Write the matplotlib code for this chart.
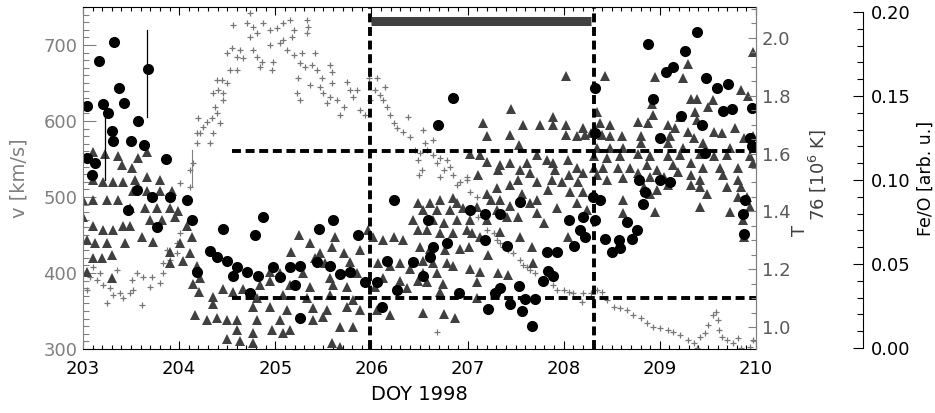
import matplotlib
matplotlib.use('Agg')
import matplotlib.pyplot as plt
from matplotlib.ticker import MultipleLocator, FormatStrFormatter
from matplotlib.transforms import blended_transform_factory

plt.rcParams['font.family'] = ['DejaVu Sans']

# solar wind speed v [km/s] (grey crosses)
v_day = [203.00, 203.07, 203.15, 203.21, 203.04, 203.28, 203.31, 203.25, 203.39, 203.42,
         203.49, 203.52, 203.51, 203.56, 203.62, 203.72, 203.70, 203.80, 203.61, 203.83,
         203.91, 203.87, 203.98, 204.01, 203.98, 203.83, 203.10, 203.35, 203.18,
         204.11, 204.14, 204.11, 204.01, 204.19, 204.22, 204.19, 204.25, 204.20, 204.29,
         204.34, 204.39, 204.35, 204.32, 204.43, 204.37, 204.35, 204.40, 204.46, 204.39,
         204.45, 204.50, 204.46, 204.53, 204.60, 204.50, 204.55, 204.63, 204.60, 204.66,
         204.56, 204.71, 204.74,
         204.74, 204.77, 204.81, 204.87, 204.95, 205.02, 205.08, 205.15, 205.19, 205.33,
         205.34, 205.33, 204.77, 204.81, 204.86, 204.84, 204.95, 204.98, 204.97, 205.05,
         205.12, 205.19, 205.28, 205.41, 205.08, 205.17, 205.26, 205.31, 205.38, 205.43,
         205.57, 205.24, 205.36, 205.49, 205.47, 205.59, 205.59, 205.23, 205.26, 205.50,
         205.57, 205.64, 205.75, 205.78, 205.81, 205.71, 205.67, 205.54, 205.85, 205.88,
         205.93, 205.97, 206.06, 206.04, 205.99, 206.09, 206.12, 206.16, 206.19, 206.14,
         206.23, 206.27, 206.33, 206.40, 206.38, 206.45, 206.48, 206.49,
         206.54, 206.56, 206.64, 206.51, 206.58, 206.64, 206.71, 206.79, 206.68, 206.82,
         206.75, 206.71, 206.85, 206.92, 206.99, 206.89, 207.03, 206.99, 206.53, 207.10,
         207.11, 207.20, 207.31, 207.37, 207.47, 207.55, 207.62, 207.70, 207.79, 207.89,
         208.00, 208.10, 208.20, 208.19, 206.68, 207.34, 207.27, 207.42, 207.58, 207.65,
         207.93, 208.05,
         208.28, 208.35, 208.40, 208.45, 208.52, 208.59, 208.66, 208.72, 208.80, 208.87,
         208.93, 209.00, 209.08, 209.14, 209.21, 209.29, 209.35, 209.39, 209.42, 209.47,
         209.50, 209.55, 209.58, 209.60, 209.61, 209.65, 209.70, 209.76, 209.84, 209.97,
         209.94, 209.81]
v_val = [400, 395, 391, 384, 378, 380, 371, 360, 374, 367,
         374, 378, 391, 400, 395, 395, 382, 387, 358, 413,
         417, 430, 439, 453, 426, 400, 408, 404, 400,
         536, 545, 513, 518, 571, 584, 584, 592, 604, 599,
         604, 610, 584, 571, 597, 618, 637, 641, 637, 654,
         654, 650, 628, 667, 667, 689, 696, 693, 684, 683,
         726, 729, 710,
         742, 724, 716, 729, 720, 722, 729, 733, 720, 733,
         724, 716, 693, 684, 678, 671, 700, 678, 667, 703,
         693, 687, 689, 689, 707, 710, 676, 671, 674, 667,
         674, 657, 647, 657, 645, 664, 650, 637, 628, 637,
         632, 628, 651, 641, 632, 618, 608, 624, 641, 614,
         608, 657, 657, 641, 628, 634, 628, 618, 608, 645,
         597, 591, 586, 579, 605, 562, 549, 529,
         588, 571, 575, 558, 562, 555, 551, 549, 545, 540,
         536, 526, 529, 520, 522, 516, 507, 526, 536, 500,
         474, 457, 443, 434, 426, 417, 408, 400, 391, 384,
         378, 374, 374, 362, 322, 439, 453, 430, 411, 404,
         378, 375,
         374, 378, 375, 364, 355, 354, 351, 345, 341, 334,
         329, 328, 325, 322, 318, 312, 308, 301, 316, 321,
         332, 345, 349, 338, 325, 316, 312, 308, 301, 312,
         303, 314]

# temperature T76 [10^6 K] (dark triangles)
t_day = [203.10, 203.23, 203.36, 203.41, 203.51, 203.57, 203.67,
         203.10, 203.21, 203.31, 203.42, 203.54, 203.67, 203.80,
         203.00, 203.10, 203.25, 203.36, 203.52, 203.67, 203.80, 203.93,
         203.49, 203.65, 203.77, 203.91, 203.99,
         203.00, 203.10, 203.21, 203.31, 203.42, 203.49, 203.70, 203.82, 203.96,
         203.04, 203.12, 203.25, 203.44, 203.61, 203.73,
         203.10, 203.20, 203.30, 203.91, 204.01, 204.08, 204.13,
         203.30, 203.91, 204.17, 204.29, 204.39, 204.50, 204.60,
         204.50, 204.63, 204.60, 204.21, 204.35, 204.46, 204.56, 204.66, 204.35, 204.19,
         204.14, 204.22, 204.04, 204.11, 203.04,
         205.25, 205.36, 205.16, 205.59, 205.96, 206.02, 206.12, 206.23, 206.33, 206.43,
         206.48, 206.48, 205.41, 205.52, 205.71, 205.78, 205.88, 205.47, 205.62,
         204.95, 205.05, 205.29, 205.57, 205.85,
         204.84, 204.95, 205.15, 205.36, 205.60, 205.75,
         206.07, 206.19, 206.30, 206.40, 206.12, 206.30, 206.48, 206.04, 206.37,
         204.81, 205.08, 205.33, 205.57, 205.81,
         204.77, 204.95, 205.12, 205.39, 205.54, 205.75, 205.88, 206.06, 206.19,
         204.81, 205.05, 205.15, 205.39, 205.50, 204.77, 204.97, 205.67, 205.81, 205.08,
         204.77, 205.59, 205.67,
         208.02, 207.45, 207.89, 207.16, 207.58, 207.75, 207.89, 208.02, 208.20,
         207.20, 207.44, 208.02, 208.14, 208.22,
         207.03, 207.13, 207.53, 207.72, 207.89, 208.04,
         207.20, 207.34, 207.44, 207.62, 207.83, 208.14,
         207.11, 207.32, 207.55, 207.65, 207.91, 208.05, 208.20,
         207.52, 207.72, 207.88, 207.98, 208.15,
         207.31, 207.44, 207.84, 208.07, 208.20,
         207.20, 207.24, 207.34, 207.57, 207.72, 208.14,
         206.89, 206.85, 206.71, 206.61,
         206.54, 206.68, 206.82, 206.95, 207.10, 207.31, 207.44, 207.65, 207.93, 208.24,
         206.64, 206.75, 206.89, 207.03, 207.20, 207.41, 207.52, 207.72, 207.79,
         206.58, 206.71, 206.85, 206.99, 207.05, 207.13, 207.34, 207.55, 207.67, 208.04,
         206.51, 206.61, 206.77, 206.92, 207.01, 207.21, 207.68,
         206.54, 206.64, 206.79, 206.85, 207.03, 207.13,
         206.54, 206.68, 207.32, 207.42,
         206.58, 206.74, 207.10, 206.71, 207.10,
         206.54, 206.75, 206.87,
         208.43, 209.29, 209.97, 208.95, 209.24, 209.84, 209.92, 209.32, 209.39, 209.55,
         209.21, 209.37, 209.50, 208.92, 208.93, 208.35, 208.38, 208.48, 208.77, 208.88,
         209.08, 209.16, 209.39, 209.29, 209.56, 209.65, 209.78,
         208.28, 208.40, 208.48, 208.61, 208.80, 209.11, 209.35, 209.87, 209.97,
         208.35, 208.48, 208.62, 208.80, 209.08, 209.24, 209.45, 209.73,
         208.31, 208.45, 208.59, 208.77, 208.90, 209.08, 209.21, 209.42, 209.56, 209.70,
         209.94,
         208.31, 208.41, 208.56, 208.69, 208.87, 208.97, 209.14, 209.32, 209.45, 209.63,
         209.81, 209.97,
         208.45, 208.62, 208.77, 208.90, 209.04, 209.19, 209.32, 209.42, 209.66, 209.81,
         208.35,
         208.83, 209.08, 209.32, 209.42, 209.70, 209.84,
         208.90, 208.97, 209.49, 209.81, 209.91,
         208.62, 209.42, 209.94, 208.62, 208.95, 209.73, 209.86, 209.87]
t_val = [1.606, 1.60, 1.59, 1.56, 1.55, 1.585, 1.606,
         1.51, 1.50, 1.50, 1.50, 1.51, 1.52, 1.51,
         1.44, 1.44, 1.44, 1.44, 1.47, 1.47, 1.47, 1.47,
         1.41, 1.41, 1.41, 1.41, 1.40,
         1.38, 1.35, 1.335, 1.335, 1.35, 1.35, 1.37, 1.37, 1.38,
         1.30, 1.29, 1.29, 1.29, 1.31, 1.295,
         1.24, 1.24, 1.25, 1.26, 1.29, 1.35, 1.31,
         1.17, 1.22, 1.04, 1.025, 1.03, 1.025, 1.025,
         0.96, 0.95, 0.99, 1.12, 1.105, 1.13, 1.12, 1.13, 1.08, 1.21,
         1.15, 1.17, 1.23, 1.256, 1.19,
         1.32, 1.29, 1.26, 1.277, 1.335, 1.31, 1.30, 1.31, 1.30, 1.37,
         1.43, 1.335, 1.24, 1.22, 1.256, 1.225, 1.266, 1.256, 1.31,
         1.19, 1.186, 1.186, 1.17, 1.186,
         1.145, 1.16, 1.145, 1.14, 1.145, 1.14,
         1.22, 1.21, 1.22, 1.20, 1.17, 1.16, 1.16, 1.14, 1.135,
         1.10, 1.11, 1.10, 1.11, 1.093,
         1.07, 1.07, 1.06, 1.065, 1.06, 1.07, 1.06, 1.06, 1.04,
         1.025, 1.025, 0.99, 1.025, 1.035, 0.98, 0.99, 1.0, 1.0, 0.98,
         0.945, 0.945, 0.93,
         1.87, 1.754, 1.727, 1.706, 1.70, 1.70, 1.70, 1.70, 1.69,
         1.66, 1.664, 1.664, 1.66, 1.664,
         1.60, 1.595, 1.63, 1.595, 1.567, 1.578,
         1.57, 1.56, 1.567, 1.567, 1.578, 1.55,
         1.526, 1.543, 1.543, 1.533, 1.543, 1.526, 1.533,
         1.51, 1.50, 1.51, 1.50, 1.50,
         1.48, 1.49, 1.474, 1.467, 1.467,
         1.46, 1.44, 1.44, 1.46, 1.44, 1.43,
         1.43, 1.446, 1.44, 1.43,
         1.405, 1.405, 1.405, 1.41, 1.415, 1.405, 1.42, 1.43, 1.41, 1.405,
         1.37, 1.36, 1.37, 1.37, 1.37, 1.38, 1.38, 1.394, 1.36,
         1.335, 1.325, 1.325, 1.335, 1.325, 1.31, 1.33, 1.31, 1.277, 1.31,
         1.277, 1.27, 1.266, 1.27, 1.277, 1.25, 1.22,
         1.23, 1.22, 1.22, 1.21, 1.20, 1.19,
         1.186, 1.186, 1.186, 1.18,
         1.155, 1.15, 1.155, 1.12, 1.10,
         1.05, 1.046, 1.03,
         1.87, 1.91, 1.95, 1.865, 1.86, 1.82, 1.80, 1.79, 1.79, 1.785,
         1.727, 1.744, 1.76, 1.77, 1.734, 1.744, 1.706, 1.70, 1.71, 1.706,
         1.70, 1.69, 1.716, 1.675, 1.675, 1.67, 1.69,
         1.67, 1.664, 1.66, 1.66, 1.66, 1.66, 1.653, 1.653, 1.66,
         1.62, 1.62, 1.62, 1.636, 1.636, 1.62, 1.636, 1.62,
         1.59, 1.585, 1.59, 1.60, 1.59, 1.59, 1.595, 1.60, 1.59, 1.595,
         1.59,
         1.55, 1.55, 1.55, 1.55, 1.56, 1.543, 1.56, 1.567, 1.55, 1.55,
         1.55, 1.567,
         1.51, 1.516, 1.533, 1.52, 1.52, 1.536, 1.526, 1.51, 1.526, 1.51,
         1.526,
         1.484, 1.49, 1.49, 1.484, 1.484, 1.484,
         1.46, 1.474, 1.46, 1.45, 1.45,
         1.44, 1.415, 1.415, 1.394, 1.398, 1.398, 1.37, 1.31]

# Fe/O ratio [arb. u.] (black circles)
f_day = [203.04, 203.17, 203.32, 203.68, 203.37, 203.43, 203.21, 203.26, 203.30, 203.31,
         203.50, 203.57, 203.63, 203.86, 203.04, 203.12, 203.09, 203.56, 203.72, 203.47,
         203.77, 203.90, 204.08, 204.13, 204.46, 204.32, 204.39, 204.50, 204.60, 204.71,
         204.56, 204.19,
         204.87, 204.79, 205.45, 205.60, 205.86, 206.23, 204.98, 205.15, 205.26, 204.82,
         204.74, 205.05, 205.43, 205.57, 205.67, 205.78, 205.20, 205.26, 205.93, 206.06,
         206.27, 206.16, 206.43, 206.11,
         206.85, 206.69, 207.55, 207.03, 207.18, 207.34, 206.59, 208.05, 208.20, 208.17,
         208.22, 208.11, 207.83, 207.93, 207.41, 207.18, 206.64, 206.79, 206.61, 206.54,
         207.84, 207.89, 207.78, 207.53, 207.34, 207.29, 206.91, 207.44, 207.60, 207.70,
         207.57, 207.21, 207.67,
         208.88, 209.39, 209.26, 209.14, 209.06, 209.48, 209.59, 209.71, 209.96, 209.66,
         209.75, 208.93, 209.22, 209.44, 209.00, 208.33, 208.33, 208.38, 208.30, 208.33,
         208.43, 208.57, 208.59, 208.50, 208.66, 208.76, 208.71, 208.82, 208.85, 208.78,
         209.11, 209.00, 209.47, 209.89, 209.86, 209.88, 209.96, 209.94]
f_val = [0.144, 0.171, 0.182, 0.166, 0.155, 0.146, 0.145, 0.140, 0.129, 0.123,
         0.123, 0.135, 0.121, 0.1125, 0.113, 0.110, 0.103, 0.094, 0.090, 0.082,
         0.072, 0.090, 0.088, 0.076, 0.071, 0.058, 0.054, 0.052, 0.048, 0.045,
         0.043, 0.045,
         0.078, 0.067, 0.071, 0.076, 0.067, 0.088, 0.048, 0.048, 0.049, 0.043,
         0.033, 0.042, 0.051, 0.049, 0.044, 0.045, 0.0375, 0.018, 0.039, 0.039,
         0.0345, 0.052, 0.051, 0.0245,
         0.149, 0.133, 0.087, 0.082, 0.080, 0.080, 0.076, 0.076, 0.078, 0.070,
         0.066, 0.061, 0.057, 0.057, 0.061, 0.064, 0.060, 0.0625, 0.054, 0.043,
         0.046, 0.043, 0.040, 0.037, 0.036, 0.033, 0.033, 0.026, 0.029, 0.029,
         0.022, 0.023, 0.013,
         0.181, 0.188, 0.177, 0.167, 0.164, 0.161, 0.155, 0.157, 0.143, 0.141,
         0.142, 0.148, 0.138, 0.133, 0.125, 0.155, 0.128, 0.088, 0.090, 0.076,
         0.065, 0.064, 0.0595, 0.057, 0.075, 0.070, 0.065, 0.086, 0.093, 0.100,
         0.099, 0.100, 0.116, 0.088, 0.080, 0.068, 0.120, 0.125]

# error bars on two early Fe/O points
err_day = [203.23, 203.67]
err_lo = [0.100, 0.1375]
err_hi = [0.1435, 0.189]

# interval markers
t_levels = [1.61, 1.10]
h_start = 204.55
v_bounds = [205.98, 208.31]
bar_span = [206.0, 208.28]
bar_v = 731

GREY = '#808080'
DARK = '#404040'

W, H = 935, 413
fig = plt.figure(figsize=(W / 100, H / 100), dpi=100)
ax = fig.add_axes([83 / W, 1 - 349 / H, 673 / W, 342 / H])
axT = ax.twinx()
axF = fig.add_axes([(863 - 40) / W, 1 - 348 / H, 40 / W, 336 / H])

ax.set_xlim(203, 210)
ax.set_ylim(300, 750)
axT.set_ylim(0.924, 2.107)
axF.set_ylim(0, 0.2)
axF.set_xlim(0, 1)

trT = blended_transform_factory(ax.transData, axT.transData)
trF = blended_transform_factory(ax.transData, axF.transData)

ax.plot(v_day, v_val, ls='none', marker='+', ms=5, mew=0.9, color='#777777', zorder=2)
ax.plot([204.13, 204.13], [513, 562], color=GREY, lw=0.8, zorder=2)
ax.plot(t_day, t_val, ls='none', marker='^', ms=7.5, mew=0, color=DARK,
        transform=trT, zorder=2.1)
ax.plot(f_day, f_val, ls='none', marker='o', ms=8, mew=0, color='black',
        transform=trF, zorder=2.2)
for d, lo, hi in zip(err_day, err_lo, err_hi):
    ax.plot([d, d], [lo, hi], color='black', lw=0.9, transform=trF, zorder=2.2)

for lev in t_levels:
    ln, = ax.plot([h_start, 210], [lev, lev], color='black', lw=2.8, transform=trT, zorder=3)
    ln.set_dashes([2.3, 1.2])
for d in v_bounds:
    ln, = ax.plot([d, d], [300, 750], color='black', lw=2.8, zorder=3)
    ln.set_dashes([2.3, 1.2])
ax.plot(bar_span, [bar_v, bar_v], color=DARK, lw=6.5, solid_capstyle='butt', zorder=3)

# main axes ticks
ax.xaxis.set_major_locator(MultipleLocator(1))
ax.xaxis.set_minor_locator(MultipleLocator(0.1))
ax.yaxis.set_major_locator(MultipleLocator(100))
ax.yaxis.set_minor_locator(MultipleLocator(10))
ax.tick_params(axis='x', which='both', direction='in', top=True, bottom=True,
               labelsize=13, pad=8, width=0.8)
ax.tick_params(axis='x', which='major', length=6)
ax.tick_params(axis='x', which='minor', length=3)
ax.tick_params(axis='y', which='both', direction='in', right=False, left=True,
               color=GREY, labelcolor=GREY, labelsize=13, pad=4, width=0.8)
ax.tick_params(axis='y', which='major', length=9)
ax.tick_params(axis='y', which='minor', length=4.5)
ax.spines['left'].set_color(GREY)
ax.spines['right'].set_color(GREY)

axT.yaxis.set_major_locator(MultipleLocator(0.2))
axT.yaxis.set_minor_locator(MultipleLocator(0.05))
axT.yaxis.set_major_formatter(FormatStrFormatter('%.1f'))
axT.tick_params(axis='y', which='both', direction='in', color=GREY, labelcolor='#5a5a5a',
                labelsize=13, pad=4, width=0.8)
axT.tick_params(axis='y', which='major', length=6)
axT.tick_params(axis='y', which='minor', length=3.5)
for s in ['left', 'top', 'bottom']:
    axT.spines[s].set_visible(False)
axT.spines['right'].set_color(GREY)

axF.patch.set_visible(False)
for s in ['left', 'top', 'bottom']:
    axF.spines[s].set_visible(False)
axF.set_xticks([])
axF.yaxis.tick_right()
axF.yaxis.set_major_locator(MultipleLocator(0.05))
axF.yaxis.set_minor_locator(MultipleLocator(0.01))
axF.yaxis.set_major_formatter(FormatStrFormatter('%.2f'))
axF.tick_params(axis='y', which='both', direction='in', labelsize=13, pad=6, width=0.8)
axF.tick_params(axis='y', which='major', length=7.5)
axF.tick_params(axis='y', which='minor', length=4)

fig.text(19 / W, 1 - 178 / H, 'v [km/s]', rotation=90, ha='center', va='center',
         fontsize=14, color=GREY)
fig.text(419 / W, 1 - 395 / H, 'DOY 1998', ha='center', va='center', fontsize=14)
fig.text(800 / W, 1 - 230 / H, 'T', rotation=90, ha='center', va='center',
         fontsize=13, color=DARK)
fig.text(817 / W, 1 - 175 / H, r'76 [10$^{\mathregular{6}}$ K]', rotation=90,
         ha='center', va='center', fontsize=13, color=DARK)
fig.text(926 / W, 1 - 178 / H, 'Fe/O [arb. u.]', rotation=90, ha='center', va='center',
         fontsize=12.5)

fig.savefig('out.png', dpi=100)
